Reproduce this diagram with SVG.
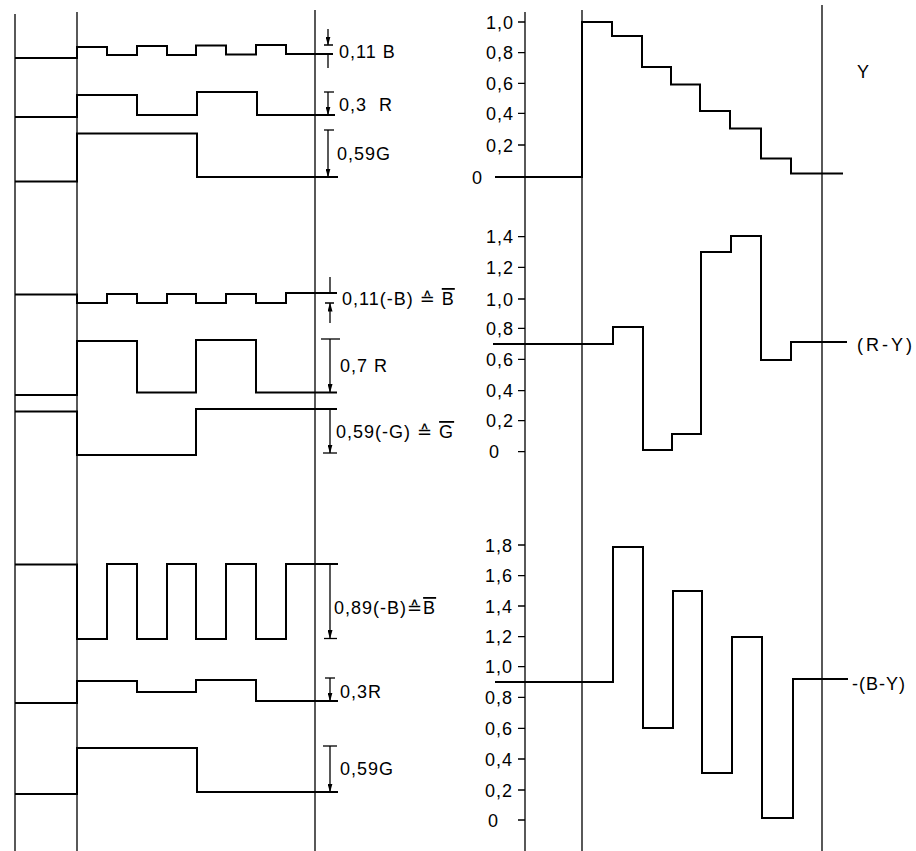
<svg xmlns="http://www.w3.org/2000/svg" width="916" height="851" viewBox="0 0 916 851">
<defs>
<style>
.ax{fill:none;stroke:#000;stroke-width:1.3}
.w{fill:none;stroke:#000;stroke-width:2;stroke-linejoin:miter}
.d{fill:none;stroke:#000;stroke-width:1.3}
.t{font-family:"Liberation Sans","DejaVu Sans",sans-serif;font-size:18px;letter-spacing:1px;fill:#000}
.ov{text-decoration:overline}
</style>
<marker id="ah" markerUnits="userSpaceOnUse" markerWidth="9" markerHeight="5" refX="8.5" refY="2.5" orient="auto">
<path d="M0,0 L9,2.5 L0,5 z" fill="#000"/>
</marker>
</defs>
<rect width="916" height="851" fill="#fff"/>

<g id="left-axes">
<path class="ax" d="M15,14 V851 M77,12 V851 M315,10 V851"/>
</g>

<g id="wave-011B">
<path class="w" d="M15,58 H77 V47 H107 V55 H137 V46 H167 V55 H196 V45.5 H226 V54.5 H256 V45 H286 V54 H333"/>
<text class="t" x="339" y="58">0,11 B</text>
</g>
<g id="wave-03R-a">
<path class="w" d="M15,117 H77 V95 H137 V115 H197 V92 H257 V115 H335"/>
<text class="t" x="339" y="111" xml:space="preserve">0,3  R</text>
</g>
<g id="wave-059G-a">
<path class="w" d="M15,181.5 H77 V133.5 H197 V177 H338"/>
<text class="t" x="337" y="160">0,59G</text>
</g>

<g id="wave-011Bbar">
<path class="w" d="M15,294.5 H77 V303 H107 V294 H137 V303 H167 V294 H196 V303 H226 V294 H256 V303 H286 V293 H337"/>
<text class="t" x="342" y="305">0,11(-B) ≙ <tspan class="ov">B</tspan></text>
</g>
<g id="wave-07R">
<path class="w" d="M15,395 H77 V341 H137 V392.5 H196 V340 H256 V392.5 H337"/>
<text class="t" x="340" y="372">0,7 R</text>
</g>
<g id="wave-059Gbar">
<path class="w" d="M15,411.5 H77 V455 H196 V409 H337"/>
<text class="t" x="336" y="438">0,59(-G) ≙ <tspan class="ov">G</tspan></text>
</g>

<g id="wave-089Bbar">
<path class="w" d="M15,564.5 H77 V639 H107 V564 H137 V639 H167 V564 H196 V639 H226 V564 H256 V639 H286 V564 H338"/>
<text class="t" x="334" y="614">0,89(-B)≙<tspan class="ov">B</tspan></text>
</g>
<g id="wave-03R-b">
<path class="w" d="M15,703 H77 V681 H137 V692 H196 V680 H256 V701 H338"/>
<text class="t" x="340" y="698">0,3R</text>
</g>
<g id="wave-059G-b">
<path class="w" d="M15,794 H77 V748 H197 V792 H338"/>
<text class="t" x="340" y="775">0,59G</text>
</g>

<g id="connectors">
<path class="d" d="M328,29 V45" marker-end="url(#ah)"/>
<path class="d" d="M324,45 H333 M328,54 V68"/>
<path class="d" d="M324,92 H334"/>
<path class="d" d="M328,92 V115" marker-end="url(#ah)"/>
<path class="d" d="M324,130 H334"/>
<path class="d" d="M328,130 V177" marker-end="url(#ah)"/>

<path class="d" d="M330,277 V294 M325,303 H334"/>
<path class="d" d="M330,323 V303" marker-end="url(#ah)"/>
<path class="d" d="M321,339 H340"/>
<path class="d" d="M330,339 V392.5" marker-end="url(#ah)"/>
<path class="d" d="M323,453 H337"/>
<path class="d" d="M330,409 V453" marker-end="url(#ah)"/>

<path class="d" d="M324,638.5 H337"/>
<path class="d" d="M330,564 V638.5" marker-end="url(#ah)"/>
<path class="d" d="M325,678 H335"/>
<path class="d" d="M330,678 V701" marker-end="url(#ah)"/>
<path class="d" d="M323,746 H337"/>
<path class="d" d="M330,746 V792" marker-end="url(#ah)"/>
</g>

<g id="right-axes">
<path class="ax" d="M525,12 V851 M582,10 V851 M822,5 V851"/>
</g>

<g id="chart-Y">
<path class="d" d="M518,22 H525 M518,52.7 H525 M518,83.3 H525 M518,113.3 H525 M518,145 H525"/>
<g class="t">
<text x="486" y="28.5">1,0</text>
<text x="486" y="59.2">0,8</text>
<text x="486" y="89.8">0,6</text>
<text x="486" y="119.8">0,4</text>
<text x="486" y="151.5">0,2</text>
<text x="472" y="183.5">0</text>
</g>
<path class="w" d="M495,177 H582 V22 H612 V36 H642 V67 H671 V84.5 H700 V111 H730 V128.5 H761 V158.5 H791 V173.5 H843"/>
<text class="t" x="857" y="78">Y</text>
</g>

<g id="chart-RY">
<path class="d" d="M518,236.7 H525 M518,267.3 H525 M518,299 H525 M518,328.3 H525 M518,359.3 H525 M518,390.7 H525 M518,420.7 H525 M518,451.7 H525"/>
<g class="t">
<text x="486" y="243.2">1,4</text>
<text x="486" y="273.8">1,2</text>
<text x="486" y="305.5">1,0</text>
<text x="486" y="334.8">0,8</text>
<text x="486" y="365.8">0,6</text>
<text x="486" y="397.2">0,4</text>
<text x="486" y="427.2">0,2</text>
<text x="489" y="458.2">0</text>
</g>
<path class="w" d="M493,344 H613 V327 H643 V450 H672 V434 H701 V252 H731 V236 H761 V360 H791 V342 H847"/>
<text class="t" x="857" y="351" style="letter-spacing:3px">(R-Y)</text>
</g>

<g id="chart-BY">
<path class="d" d="M518,545 H525 M518,575.7 H525 M518,606 H525 M518,636.7 H525 M518,666.7 H525 M518,697.3 H525 M518,728.3 H525 M518,759 H525 M518,790 H525 M518,820 H525"/>
<g class="t">
<text x="485" y="551.5">1,8</text>
<text x="485" y="582.2">1,6</text>
<text x="485" y="612.5">1,4</text>
<text x="485" y="643.2">1,2</text>
<text x="485" y="673.2">1,0</text>
<text x="485" y="703.8">0,8</text>
<text x="485" y="734.8">0,6</text>
<text x="485" y="765.5">0,4</text>
<text x="485" y="796.5">0,2</text>
<text x="488" y="826.5">0</text>
</g>
<path class="w" d="M495,682 H613 V547 H643 V728 H673 V591 H702 V773 H732 V637 H762 V818 H793 V679 H848"/>
<text class="t" x="852" y="690">-(B-Y)</text>
</g>
</svg>
